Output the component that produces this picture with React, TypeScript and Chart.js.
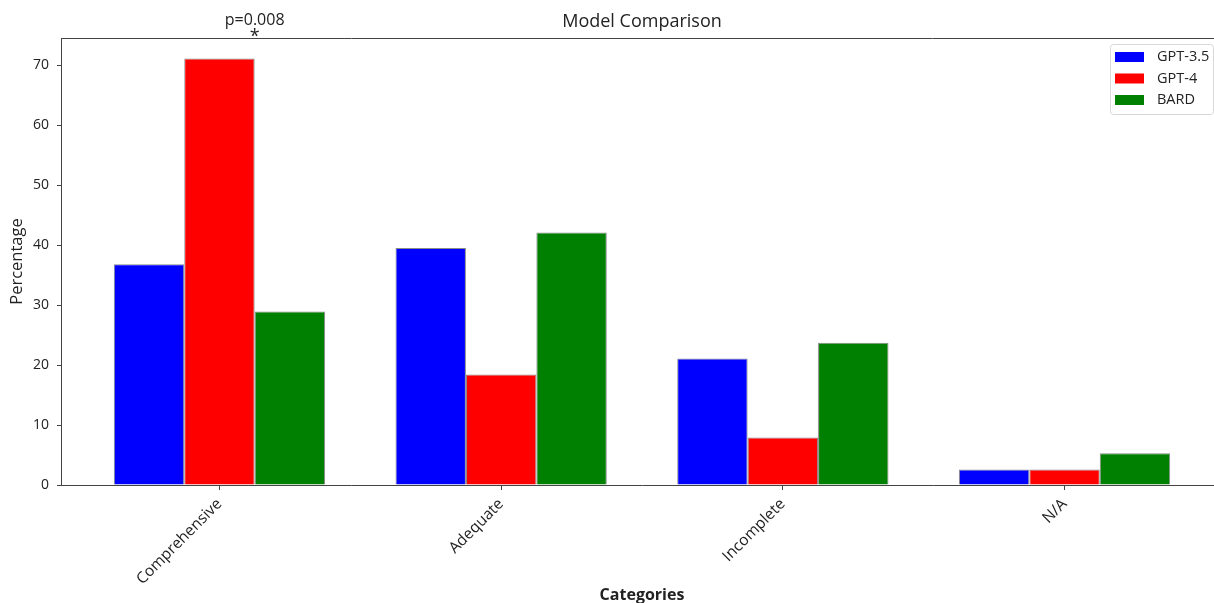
import React, { useEffect, useRef } from "react";
import { Chart, registerables } from "chart.js";

Chart.register(...registerables);

const categories = ["Comprehensive", "Adequate", "Incomplete", "N/A"];
const seriesNames = ["GPT-3.5", "GPT-4", "BARD"];
const gpt35 = [36.8, 39.5, 21.1, 2.6];
const gpt4 = [71.1, 18.4, 7.9, 2.6];
const bard = [28.9, 42.1, 23.7, 5.3];
const seriesColors = ["#0000ff", "#ff0000", "#008000"];
const yTicks = [0, 10, 20, 30, 40, 50, 60, 70];
const annotationText = "p=0.008";
const annotationX = 0.125;
const starY = 75.3;
const labelY = 77.5;

const FONT = "'Open Sans', 'DejaVu Sans', sans-serif";

const overlay = {
  id: "overlay",
  afterDraw(chart: any) {
    const { ctx, chartArea, scales } = chart;
    const { left, right, top, bottom } = chartArea;
    ctx.save();
    // top spine
    ctx.strokeStyle = "#444";
    ctx.lineWidth = 1;
    ctx.beginPath();
    ctx.moveTo(left, top + 0.5);
    ctx.lineTo(right, top + 0.5);
    ctx.moveTo(right - 0.5, top);
    ctx.lineTo(right - 0.5, bottom);
    ctx.stroke();

    ctx.fillStyle = "#222";
    ctx.textAlign = "center";
    ctx.textBaseline = "middle";
    // title
    ctx.font = `18px ${FONT}`;
    ctx.fillText("Model Comparison", (left + right) / 2, 22);
    // x title
    ctx.font = `bold 16px ${FONT}`;
    ctx.fillText("Categories", (left + right) / 2, 595);
    // y title
    ctx.save();
    ctx.translate(17, (top + bottom) / 2);
    ctx.rotate(-Math.PI / 2);
    ctx.font = `16.5px ${FONT}`;
    ctx.fillText("Percentage", 0, 0);
    ctx.restore();

    // annotation
    const ax = scales.x.getPixelForValue(annotationX);
    ctx.font = `16px ${FONT}`;
    ctx.fillText(annotationText, ax, scales.y.getPixelForValue(labelY));
    ctx.font = `18px ${FONT}`;
    ctx.fillText("*", ax, scales.y.getPixelForValue(starY) + 4);

    // legend
    const lx = 1110;
    const ly = 44;
    const lw = 103;
    const lh = 70;
    ctx.fillStyle = "rgba(255,255,255,0.8)";
    ctx.strokeStyle = "#d8d8d8";
    ctx.beginPath();
    if ((ctx as any).roundRect) (ctx as any).roundRect(lx + 0.5, ly + 0.5, lw, lh, 3);
    else ctx.rect(lx + 0.5, ly + 0.5, lw, lh);
    ctx.fill();
    ctx.stroke();
    ctx.textAlign = "left";
    ctx.font = `14.5px ${FONT}`;
    chart.data.datasets.forEach((ds: any, i: number) => {
      const cy = ly + 13 + i * 21.5;
      ctx.fillStyle = ds.backgroundColor;
      ctx.fillRect(lx + 5, cy - 5, 29, 10);
      ctx.fillStyle = "#222";
      ctx.fillText(ds.label, lx + 47, cy);
    });
    ctx.restore();
  },
};

export default function App() {
  const ref = useRef<HTMLCanvasElement>(null);
  useEffect(() => {
    if (!ref.current) return;
    const series = [gpt35, gpt4, bard];
    const chart = new Chart(ref.current, {
      type: "bar",
      data: {
        datasets: series.map((vals, si) => ({
          label: seriesNames[si],
          data: vals.map((v, i) => ({ x: i, y: v })),
          backgroundColor: seriesColors[si],
          borderColor: "#8a8a8a",
          borderWidth: 1,
          categoryPercentage: 0.75,
          barPercentage: 1,
        })),
      },
      plugins: [overlay],
      options: {
        responsive: false,
        animation: false,
        layout: { padding: { top: 38, right: 17, left: 0, bottom: 0 } },
        plugins: { legend: { display: false }, tooltip: { enabled: false }, title: { display: false } },
        scales: {
          x: {
            type: "linear",
            offset: false,
            min: -0.5625,
            max: 3.5625,
            afterFit: (s: any) => { s.height = 118; },
            afterBuildTicks: (s: any) => { s.ticks = categories.map((_, i) => ({ value: i })); },
            ticks: {
              autoSkip: false,
              minRotation: 45,
              maxRotation: 45,
              padding: 5,
              color: "#222",
              font: { family: FONT, size: 15.5 },
              callback: (v: any) => categories[Math.round(Number(v))] ?? "",
            },
            grid: { display: true, offset: false, drawOnChartArea: false, drawTicks: true, tickLength: 5, color: "#444" },
            border: { display: true, color: "#444", width: 1 },
          },
          y: {
            type: "linear",
            min: 0,
            max: 74.5,
            afterFit: (s: any) => { s.width = 61; },
            afterBuildTicks: (s: any) => { s.ticks = yTicks.map((v) => ({ value: v })); },
            ticks: { color: "#222", padding: 8, font: { family: FONT, size: 14 } },
            grid: { display: true, drawOnChartArea: false, drawTicks: true, tickLength: 4, color: "#444" },
            border: { display: true, color: "#444", width: 1 },
          },
        },
      },
    });
    return () => chart.destroy();
  }, []);
  return (
    <div style={{ position: "fixed", left: 0, top: 0, width: 1214, height: 603, overflow: "hidden", background: "#fff" }}>
      <canvas ref={ref} width={1240} height={603} style={{ display: "block", width: 1240, height: 603 }} />
    </div>
  );
}
